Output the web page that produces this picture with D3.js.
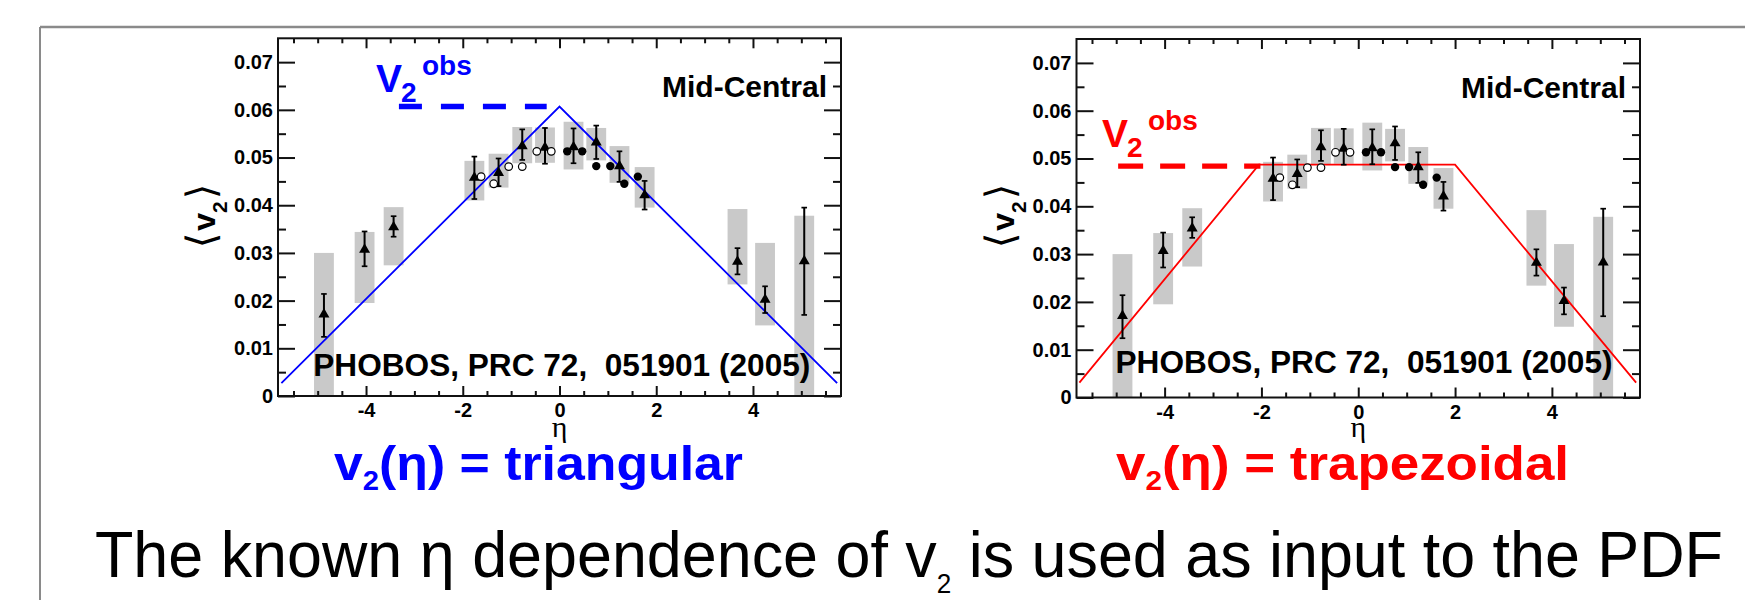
<!DOCTYPE html>
<html><head><meta charset="utf-8">
<script src="https://cdn.jsdelivr.net/npm/d3@7"></script>
<style>body{margin:0;background:#fff}svg{display:block}text{white-space:pre}</style>
</head><body>
<svg id="c" width="1745" height="600"></svg>
<script>
// ---- data (PHOBOS mid-central v2 vs eta) ----
const etaTri  = [-4.87, -4.03, -3.43, -1.76, -1.26, -0.77, -0.30, 0.29, 0.76, 1.24, 1.76, 3.68, 4.25, 5.06];
const v2Tri   = [0.0171, 0.0307, 0.0354, 0.0458, 0.0468, 0.0524, 0.0521, 0.0522, 0.0532, 0.0482, 0.0421, 0.0282, 0.0202, 0.0283];
const statLo  = [0.0124, 0.0272, 0.0334, 0.0413, 0.0440, 0.0495, 0.0487, 0.0488, 0.0497, 0.0449, 0.0391, 0.0255, 0.0174, 0.0170];
const statHi  = [0.0214, 0.0345, 0.0377, 0.0502, 0.0498, 0.0559, 0.0562, 0.0561, 0.0567, 0.0513, 0.0451, 0.0310, 0.0230, 0.0395];
const sysLo   = [0.0000, 0.0195, 0.0274, 0.0410, 0.0437, 0.0488, 0.0489, 0.0475, 0.0494, 0.0447, 0.0395, 0.0234, 0.0148, 0.0000];
const sysHi   = [0.0300, 0.0344, 0.0396, 0.0493, 0.0508, 0.0564, 0.0563, 0.0575, 0.0562, 0.0524, 0.0480, 0.0392, 0.0321, 0.0378];
const sysHalfWidthEta = 0.205;

const etaOpen   = [-1.62, -1.36, -1.05, -0.77, -0.47, -0.17];
const v2Open    = [0.0460, 0.0445, 0.0481, 0.0481, 0.0513, 0.0513];
const etaFilled = [0.16, 0.47, 0.76, 1.05, 1.34, 1.62];
const v2Filled  = [0.0513, 0.0513, 0.0482, 0.0482, 0.0445, 0.0460];

// model inputs
const triModelEta  = [-5.75, 0, 5.74];
const triModelV2   = [0.0027, 0.0607, 0.0027];
const trapModelEta = [-5.76, -2.05, 2.0, 5.74];
const trapModelV2  = [0.0031, 0.0487, 0.0487, 0.0031];
const triObsEta  = [-3.32, -0.265];
const triObsV2   = [0.0607, 0.0607];
const trapObsEta = [-4.96, -2.02];
const trapObsV2  = [0.0484, 0.0484];

// axes
const etaDomain = [-5.82, 5.82];
const v2Domain  = [0, 0.075];
const xMajorTicks = [-4, -2, 0, 2, 4];
const xTickLabels = ["-4", "-2", "0", "2", "4"];
const xMinorTicks = [-5.5,-5,-4.5,-3.5,-3,-2.5,-1.5,-1,-0.5,0.5,1,1.5,2.5,3,3.5,4.5,5,5.5];
const yMajorTicks = [0, 0.01, 0.02, 0.03, 0.04, 0.05, 0.06, 0.07];
const yTickLabels = ["0", "0.01", "0.02", "0.03", "0.04", "0.05", "0.06", "0.07"];
const yMinorTicks = [0.005, 0.015, 0.025, 0.035, 0.045, 0.055, 0.065];

const titles = ["triangular", "trapezoidal"];
const footer = ["The known η dependence of v", "2", " is used as input to the PDF"];

const svg = d3.select("#c");
const SANS = "'Liberation Sans', Arial, Helvetica, sans-serif";

// outer slide frame
svg.append("line").attr("x1", 40).attr("y1", 27).attr("x2", 1745).attr("y2", 27)
  .attr("stroke", "#8a8a8a").attr("stroke-width", 2.5);
svg.append("line").attr("x1", 40).attr("y1", 27).attr("x2", 40).attr("y2", 600)
  .attr("stroke", "#8a8a8a").attr("stroke-width", 2);

const panels = [
  {x0: 278, x1: 841, y0: 38.3, y1: 396, color: "#0000ff",
   mEta: triModelEta, mV2: triModelV2, oEta: triObsEta, oV2: triObsV2, dash: "23,19",
   obsLab: {x: 376, y: 91.7}, mid: {x: 827, y: 97}, pho: {x: 313.3, y: 375.5},
   title: {x: 334, y: 480, len: 409, word: titles[0]}},
  {x0: 1076.5, x1: 1640, y0: 39, y1: 397.5, color: "#ff0000",
   mEta: trapModelEta, mV2: trapModelV2, oEta: trapObsEta, oV2: trapObsV2, dash: "25,17",
   obsLab: {x: 1102, y: 146.7}, mid: {x: 1626, y: 98}, pho: {x: 1115.5, y: 373},
   title: {x: 1116, y: 480, len: 453, word: titles[1]}}
];

panels.forEach(p => {
  const x = d3.scaleLinear().domain(etaDomain).range([p.x0, p.x1]);
  const y = d3.scaleLinear().domain(v2Domain).range([p.y1, p.y0]);
  const g = svg.append("g");
  const idx = d3.range(etaTri.length);

  // systematic boxes
  g.selectAll("rect.sys").data(idx).join("rect")
    .attr("x", i => x(etaTri[i] - sysHalfWidthEta))
    .attr("width", i => x(etaTri[i] + sysHalfWidthEta) - x(etaTri[i] - sysHalfWidthEta))
    .attr("y", i => y(sysHi[i]))
    .attr("height", i => y(sysLo[i]) - y(sysHi[i]))
    .attr("fill", "#c9c9c9");

  // text inside frame
  g.append("text").attr("x", p.pho.x).attr("y", p.pho.y)
    .attr("font-family", SANS).attr("font-weight", "bold").attr("font-size", 32)
    .attr("textLength", 497).attr("lengthAdjust", "spacingAndGlyphs")
    .text("PHOBOS, PRC 72,  051901 (2005)");
  g.append("text").attr("x", p.mid.x).attr("y", p.mid.y).attr("text-anchor", "end")
    .attr("font-family", SANS).attr("font-weight", "bold").attr("font-size", 30)
    .text("Mid-Central");

  // model line
  const line = d3.line().x(d => x(d[0])).y(d => y(d[1]));
  g.append("path").datum(d3.zip(p.mEta, p.mV2)).attr("d", line)
    .attr("fill", "none").attr("stroke", p.color).attr("stroke-width", 1.8);
  // observed v2 dashed
  g.append("path").datum(d3.zip(p.oEta, p.oV2)).attr("d", line)
    .attr("fill", "none").attr("stroke", p.color).attr("stroke-width", 5.3)
    .attr("stroke-dasharray", p.dash);

  // stat error bars
  g.selectAll("line.err").data(idx).join("line")
    .attr("x1", i => x(etaTri[i])).attr("x2", i => x(etaTri[i]))
    .attr("y1", i => y(statLo[i])).attr("y2", i => y(statHi[i]))
    .attr("stroke", "#000").attr("stroke-width", 2);
  [statLo, statHi].forEach(arr => {
    g.selectAll(null).data(idx).join("line")
      .attr("x1", i => x(etaTri[i]) - 2.8).attr("x2", i => x(etaTri[i]) + 2.8)
      .attr("y1", i => y(arr[i])).attr("y2", i => y(arr[i]))
      .attr("stroke", "#000").attr("stroke-width", 1.7);
  });

  // markers
  const tri = d3.symbol(d3.symbolTriangle, 52);
  g.selectAll("path.tri").data(idx).join("path")
    .attr("d", tri).attr("transform", i => `translate(${x(etaTri[i])},${y(v2Tri[i])})`)
    .attr("fill", "#000");
  g.selectAll("circle.open").data(d3.zip(etaOpen, v2Open)).join("circle")
    .attr("cx", d => x(d[0])).attr("cy", d => y(d[1])).attr("r", 3.8)
    .attr("fill", "#fff").attr("stroke", "#000").attr("stroke-width", 1.2);
  g.selectAll("circle.fill").data(d3.zip(etaFilled, v2Filled)).join("circle")
    .attr("cx", d => x(d[0])).attr("cy", d => y(d[1])).attr("r", 4.2)
    .attr("fill", "#000");

  // frame
  g.append("rect").attr("x", p.x0).attr("y", p.y0).attr("width", p.x1 - p.x0).attr("height", p.y1 - p.y0)
    .attr("fill", "none").attr("stroke", "#111").attr("stroke-width", 2);

  const style = sel => {
    sel.select(".domain").remove();
    sel.selectAll("line").attr("stroke", "#111").attr("stroke-width", 2);
    sel.selectAll("text").attr("font-family", SANS).attr("font-weight", "bold")
       .attr("font-size", 20).attr("fill", "#000");
    sel.attr("font-size", null).attr("font-family", null);
  };
  // bottom axis
  g.append("g").attr("transform", `translate(0,${p.y1})`)
    .call(d3.axisBottom(x).tickValues(xMajorTicks).tickSize(-10).tickPadding(7)
      .tickFormat((d, i) => xTickLabels[i])).call(style);
  g.append("g").attr("transform", `translate(0,${p.y1})`)
    .call(d3.axisBottom(x).tickValues(xMinorTicks).tickSize(-5).tickFormat("")).call(style);
  // top axis
  g.append("g").attr("transform", `translate(0,${p.y0})`)
    .call(d3.axisTop(x).tickValues(xMajorTicks).tickSize(-10).tickFormat("")).call(style);
  g.append("g").attr("transform", `translate(0,${p.y0})`)
    .call(d3.axisTop(x).tickValues(xMinorTicks).tickSize(-5).tickFormat("")).call(style);
  // left axis
  g.append("g").attr("transform", `translate(${p.x0},0)`)
    .call(d3.axisLeft(y).tickValues(yMajorTicks).tickSize(-17).tickPadding(5)
      .tickFormat((d, i) => yTickLabels[i])).call(style);
  g.append("g").attr("transform", `translate(${p.x0},0)`)
    .call(d3.axisLeft(y).tickValues(yMinorTicks).tickSize(-8).tickFormat("")).call(style);
  // right axis
  g.append("g").attr("transform", `translate(${p.x1},0)`)
    .call(d3.axisRight(y).tickValues(yMajorTicks).tickSize(-17).tickFormat("")).call(style);
  g.append("g").attr("transform", `translate(${p.x1},0)`)
    .call(d3.axisRight(y).tickValues(yMinorTicks).tickSize(-8).tickFormat("")).call(style);

  // axis titles
  g.append("text").attr("x", x(0)).attr("y", 437).attr("text-anchor", "middle")
    .attr("font-family", "'Liberation Serif', 'Times New Roman', serif").attr("font-size", 30)
    .text("η");
  const yl = g.append("text")
    .attr("transform", `translate(${p.x0 - 63},216) rotate(-90)`)
    .attr("text-anchor", "middle").attr("font-family", SANS).attr("font-size", 32);
  yl.append("tspan").attr("font-family", "'DejaVu Sans', sans-serif").attr("font-size", 40).text("⟨");
  yl.append("tspan").attr("font-weight", "bold").attr("dx", 2).text("v");
  yl.append("tspan").attr("font-weight", "bold").attr("font-size", 21).attr("dy", 12).text("2");
  yl.append("tspan").attr("font-family", "'DejaVu Sans', sans-serif").attr("font-size", 40)
    .attr("dy", -12).attr("dx", 2).text("⟩");

  // v2^obs label
  const lab = g.append("g").attr("fill", p.color).attr("font-family", SANS).attr("font-weight", "bold");
  lab.append("text").attr("x", p.obsLab.x).attr("y", p.obsLab.y).attr("font-size", 39).text("V");
  lab.append("text").attr("x", p.obsLab.x + 25).attr("y", p.obsLab.y + 10).attr("font-size", 28).text("2");
  lab.append("text").attr("x", p.obsLab.x + 46).attr("y", p.obsLab.y - 16.5).attr("font-size", 28).text("obs");

  // big title
  const t = svg.append("text").attr("x", p.title.x).attr("y", p.title.y)
    .attr("font-family", SANS).attr("font-weight", "bold").attr("font-size", 48)
    .attr("fill", p.color).attr("textLength", p.title.len).attr("lengthAdjust", "spacingAndGlyphs");
  t.append("tspan").text("v");
  t.append("tspan").attr("font-size", 27).attr("dy", 10).text("2");
  t.append("tspan").attr("dy", -10).text("(η) = " + p.title.word);
});

// footer
const f = svg.append("text").attr("x", 95).attr("y", 577)
  .attr("font-family", SANS).attr("font-size", 65).attr("fill", "#000")
  .attr("textLength", 1628).attr("lengthAdjust", "spacingAndGlyphs");
f.append("tspan").text(footer[0]);
f.append("tspan").attr("font-size", 27).attr("dy", 16).text(footer[1]);
f.append("tspan").attr("dy", -16).text(footer[2]);
</script>
</body></html>
